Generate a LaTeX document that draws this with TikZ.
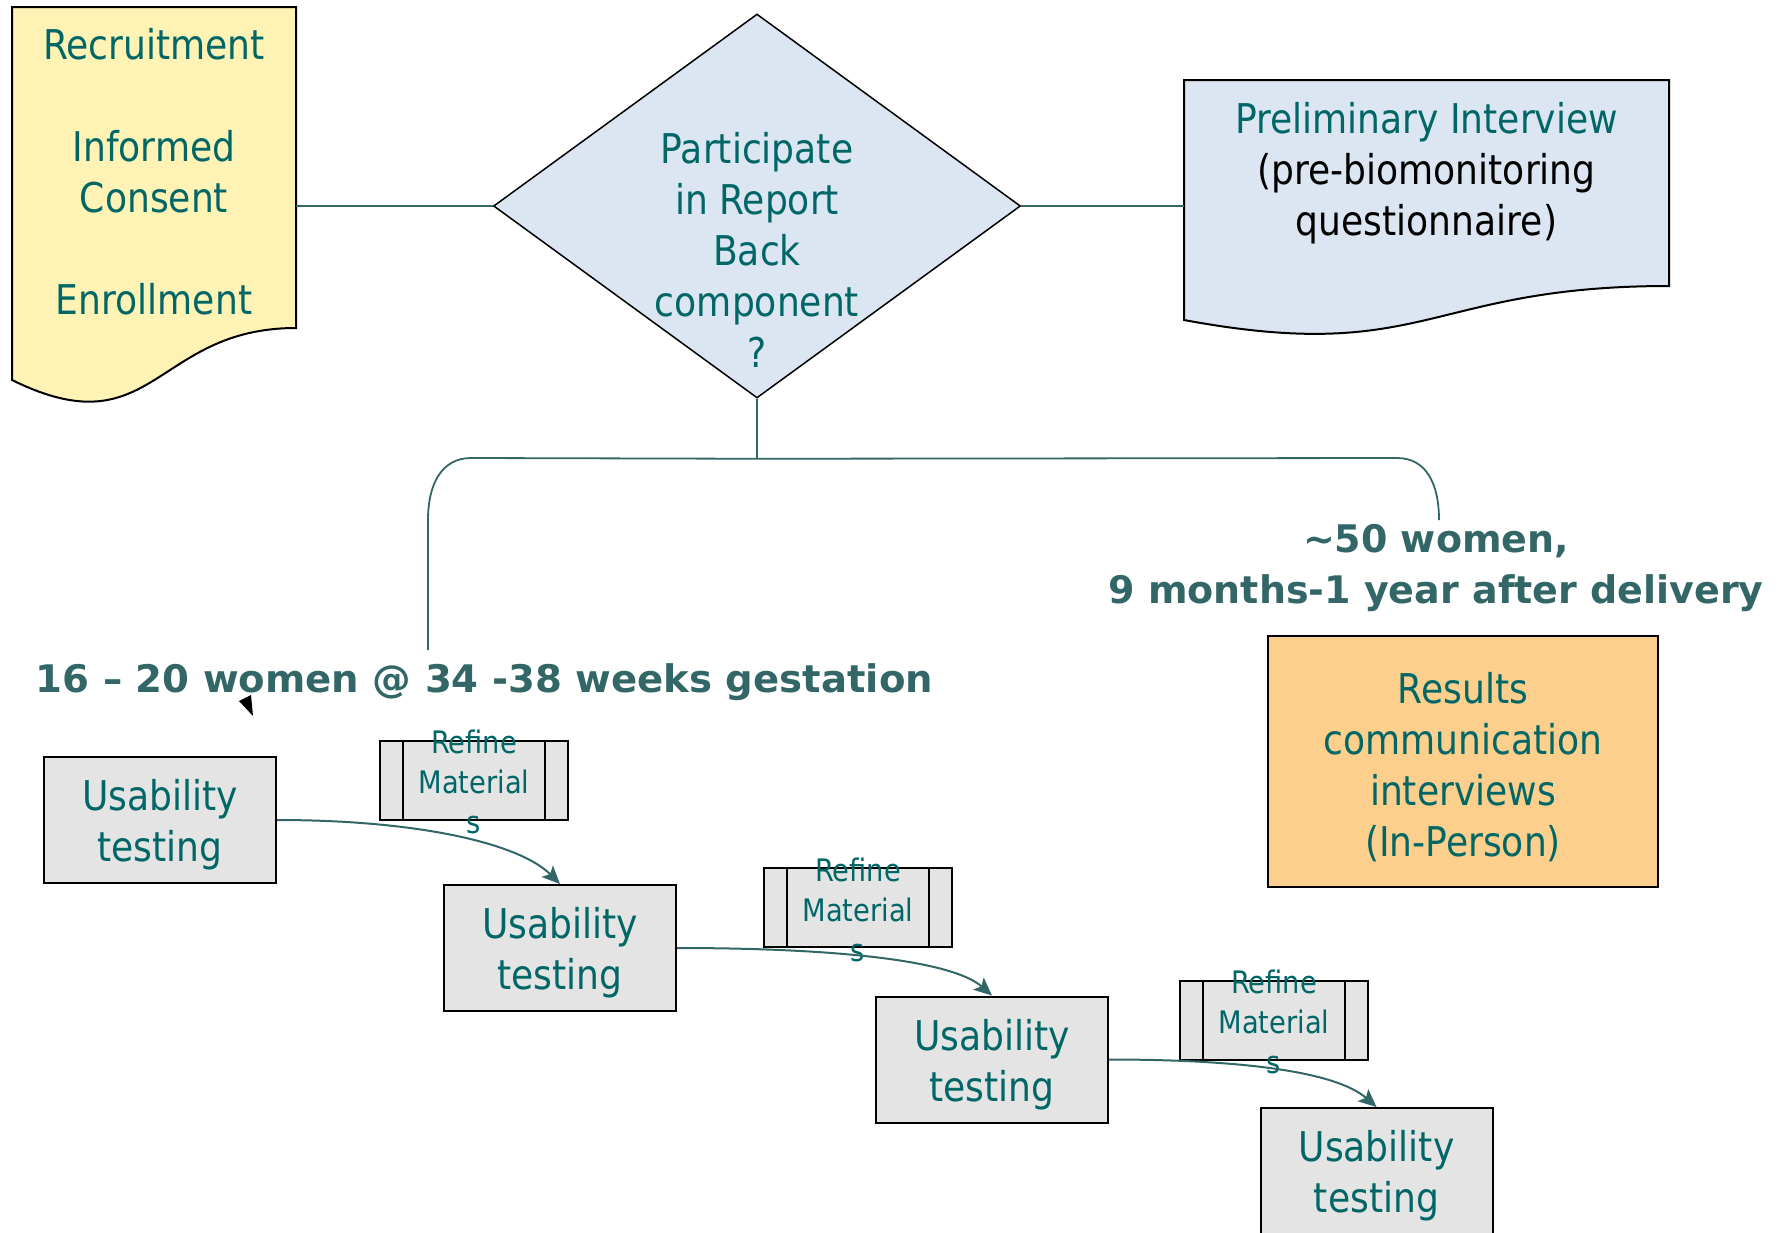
\documentclass[tikz,border=0pt]{standalone}
\usepackage{fontspec}
\setmainfont{DejaVu Sans}[FakeStretch=0.88]
\newfontfamily\labfont{DejaVu Sans}
\usetikzlibrary{shapes.geometric,arrows.meta,calc,backgrounds}
\definecolor{tealtxt}{RGB}{0,102,102}
\definecolor{linecol}{RGB}{51,102,102}
\definecolor{docyellow}{RGB}{255,242,181}
\definecolor{docblue}{RGB}{220,230,242}
\definecolor{boxgray}{RGB}{228,228,228}
\definecolor{boxorange}{RGB}{253,207,140}
\begin{document}
\begin{tikzpicture}[x=1pt,y=-1pt,
  bigtext/.style={font=\fontsize{41}{51}\selectfont, text=tealtxt, align=center},
  reftext/.style={font=\fontsize{31}{40}\selectfont, text=tealtxt, align=center},
  usebox/.style={draw=black, line width=2pt, fill=boxgray, minimum width=232pt, minimum height=126pt, inner sep=0pt,
    label={[bigtext, yshift=-5pt]center:{#1}}},
  refbox/.style={draw=black, line width=2pt, fill=boxgray, minimum width=188pt, minimum height=79pt, inner sep=0pt,
    label={[reftext, yshift=-2pt]center:{#1}},
    path picture={\draw[line width=1.8pt,black]
      ([xshift=23pt]path picture bounding box.north west) -- ([xshift=23pt]path picture bounding box.south west)
      ([xshift=-23pt]path picture bounding box.north east) -- ([xshift=-23pt]path picture bounding box.south east);}},
  conn/.style={draw=linecol, line width=1.8pt},
  flow/.style={draw=linecol, line width=2pt, -{Stealth[length=18pt,width=16pt,inset=4pt]}},
  lab/.style={font=\labfont\bfseries\fontsize{38}{51}\selectfont, text=linecol, align=center},
  shapeline/.style={draw=black, line width=2pt}
]
\useasboundingbox (0,0) rectangle (1779,1232);

% document-shaped nodes (text), shapes drawn behind
\node[bigtext, minimum width=284pt, inner sep=0pt] (rec) at (154,172)
  {Recruitment\\[51pt]Informed\\Consent\\[51pt]Enrollment};
\node[bigtext, minimum width=485pt, inner sep=0pt] (pre) at (1426.5,173.5)
  {Preliminary Interview\\\textcolor{black}{(pre-biomonitoring}\\\textcolor{black}{questionnaire)}};
\begin{scope}[on background layer]
  \path[shapeline, fill=docyellow] (12,7) -- (296,7) -- (296,328)
    .. controls (154,328) and (154,450) .. (12,380) -- cycle;
  \path[shapeline, fill=docblue] (1184,80) -- (1669,80) -- (1669,286)
    .. controls (1426.5,286) and (1426.5,365) .. (1184,320) -- cycle;
\end{scope}

% decision
\node[diamond, draw=black, line width=1.5pt, fill=docblue, minimum width=527pt, minimum height=384pt, inner sep=0pt,
  label={[name=dectext, bigtext, yshift=-44pt]center:{Participate\\in Report\\Back\\component\\?}}] (dec) at (757,206) {};

\draw[conn] (rec.east |- dec.west) -- (dec.west);
\draw[conn] (dec.east) -- (dec.east -| pre.west);

% results
\node[draw=black, line width=2pt, fill=boxorange, minimum width=390pt, minimum height=251pt, inner sep=0pt,
  label={[bigtext, yshift=-6pt]center:{Results\\communication\\interviews\\(In-Person)}}]
  (res) at (1463,761.5) {};

% labels
\node[lab, anchor=base, xscale=1.017] (lab1) at (484.5,692) {16 – 20 women @ 34 -38 weeks gestation};
\node[lab] (lab2) at (1436,568) {\textasciitilde50 women,\\9 months-1 year after delivery};

% tree
\coordinate (lend) at (428,650);
\coordinate (rend) at (1439,520);
\draw[conn] (dec.south) -- ++(0,60) coordinate (junc);
\draw[conn] (junc) -- (471,458) .. controls (441,458) and (428,485) .. (428,520) -- (lend);
\draw[conn] (junc) -- (1397,458) .. controls (1427,458) and (1439,485) .. (rend);

% stray arrowhead
\fill[black] (239,701) -- (251,695) -- (253,716) -- cycle;

% usability testing chain
\node[usebox={Usability\\testing}] (u1) at (160,820) {};
\node[usebox={Usability\\testing}] (u2) at (560,948) {};
\node[usebox={Usability\\testing}] (u3) at (992,1059.5) {};
\node[usebox={Usability\\testing}] (u4) at (1376.5,1171) {};

\node[refbox={Refine\\Material\\s}] (r1) at (474,780) {};
\node[refbox={Refine\\Material\\s}] (r2) at (858,907.5) {};
\node[refbox={Refine\\Material\\s}] (r3) at (1274,1020) {};

\draw[flow] (u1.east) .. controls +(144,0) and +(-40,-40) .. (u2.north);
\draw[flow] (u2.east) .. controls +(160,0) and +(-40,-35) .. (u3.north);
\draw[flow] (u3.east) .. controls +(135,0) and +(-40,-35) .. (u4.north);
\end{tikzpicture}
\end{document}
